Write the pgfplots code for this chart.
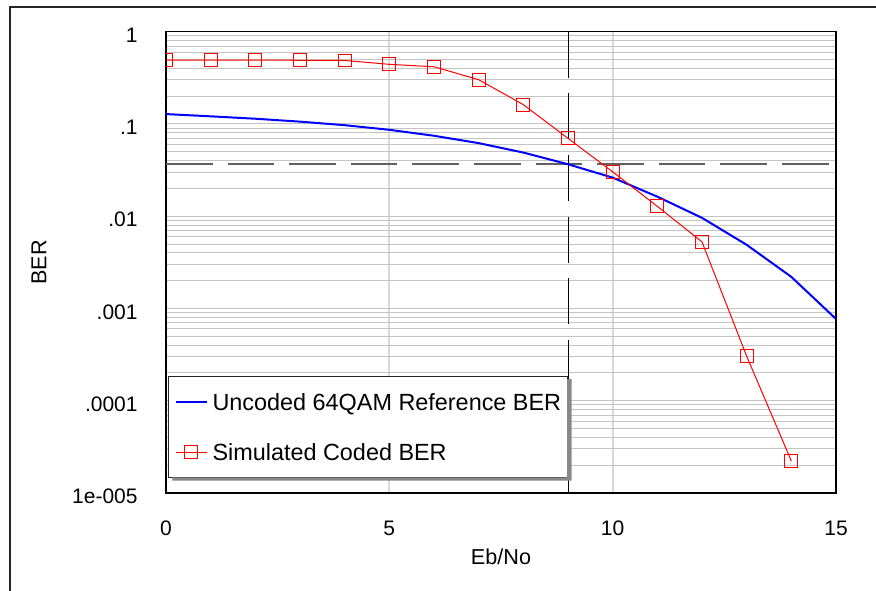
\documentclass[border=0pt]{standalone}
\usepackage{pgfplots}
\pgfplotsset{compat=1.18}
\usepackage{fontspec}
\setmainfont{Liberation Sans}
\definecolor{gridgray}{HTML}{C4C4C4}
\definecolor{gridlight}{HTML}{D8D8D8}
\definecolor{dashgray}{HTML}{606060}
\definecolor{shadowgray}{HTML}{888888}
\begin{document}
\begin{tikzpicture}
\useasboundingbox (0,0) rectangle (438pt,295pt);
\draw[line width=0.65pt, color=black!85] (5pt,-5pt) -- (5pt,291.5pt) -- (445pt,291.5pt);
\begin{axis}[
  at={(83pt,48.5pt)}, anchor=south west,
  scale only axis, width=335pt, height=230.65pt,
  ymode=log, log basis y=10,
  xmin=0, xmax=15, ymin=1e-5, ymax=1,
  xtick={0,5,10,15},
  ytick={1e-5,1e-4,1e-3,1e-2,1e-1,1},
  yticklabels={1e-005,.0001,.001,.01,.1,1},
  minor ytick={2e-5,3e-5,4e-5,5e-5,6e-5,7e-5,8e-5,9e-5,
               2e-4,3e-4,4e-4,5e-4,6e-4,7e-4,8e-4,9e-4,
               2e-3,3e-3,4e-3,5e-3,6e-3,7e-3,8e-3,9e-3,
               2e-2,3e-2,4e-2,5e-2,6e-2,7e-2,8e-2,9e-2,
               0.2,0.3,0.4,0.5,0.6,0.7,0.8,0.9},
  xmajorgrids, ymajorgrids, yminorgrids,
  x grid style={color=gridlight, line width=1pt},
  y grid style={color=gridgray, line width=0.5pt},
  major tick length=0pt, minor tick length=0pt,
  axis line style={line width=0.65pt},
  /pgf/number format/assume math mode=true,
  tick label style={font=\fontsize{10.5}{12}\selectfont},
  xticklabel style={anchor=base, inner sep=0pt, yshift=-21pt},
  yticklabel style={anchor=east, inner sep=0pt, xshift=-14pt, yshift=-1.75pt},
  xlabel={Eb/No}, ylabel={BER},
  label style={font=\fontsize{10.8}{12}\selectfont},
  xlabel style={at={(axis description cs:0.5,-0.1539)}, anchor=base, inner sep=0pt},
  ylabel style={at={(axis description cs:-0.1896,0.5)}, anchor=center, inner sep=0pt},
  clip marker paths=true,
  legend cell align=left,
  legend image code/.code={\draw[mark repeat=2,mark phase=2,#1] plot coordinates {(0pt,0pt) (7.75pt,0pt) (15.5pt,0pt)};},
  legend style={at={(0.003,0.2536)}, anchor=north west, draw=black!85, line width=0.55pt,
    fill=white, inner xsep=3pt, inner ysep=7pt, row sep=13.9pt, column sep=2.5pt,
    font=\fontsize{11.7}{13}\selectfont,
    nodes={inner sep=0pt, text height=9.8pt, text depth=1.5pt, anchor=west}},
]
% reference lines
\addplot[forget plot, color=dashgray, line width=1pt, dash pattern=on 23.3pt off 7.5pt]
  coordinates {(0,0.0368) (15,0.0368)};
\addplot[forget plot, color=black, line width=0.5pt, dash pattern=on 23pt off 7.8pt]
  coordinates {(9.0073,1) (9.0073,1e-5)};
% uncoded reference
\addplot[color=blue, line width=1pt, no markers] coordinates {
  (0,0.128) (1,0.121) (2,0.114) (3,0.106) (4,0.097) (5,0.0865)
  (6,0.0745) (7,0.062) (8,0.049) (9,0.0366) (10,0.0262) (11,0.0163)
  (12,0.0096) (13,0.0049) (14,0.0022) (15,0.00077)
};
\addlegendentry{Uncoded 64QAM Reference BER}
% simulated coded
\addplot[color=red, line width=0.5pt, mark=square, mark size=3.2pt, mark options={solid, line width=0.5pt}] coordinates {
  (0,0.493) (1,0.493) (2,0.493) (3,0.49) (4,0.488) (5,0.443)
  (6,0.417) (7,0.302) (8,0.162) (9,0.0698) (10,0.0303) (11,0.0128)
  (12,0.00527) (13,0.000304) (14,0.0000222)
};
\addlegendentry{Simulated Coded BER}
\node[anchor=base, inner sep=0pt, font=\fontsize{6.7}{8}\selectfont, yshift=-8.5pt] at (axis cs:9.0073,1e-5) {9.0073};
\end{axis}
% legend drop shadow (opaque strip right of and below the legend box)
\fill[shadowgray] (283.6pt,105.5pt) -- (285.85pt,105.5pt) -- (285.85pt,54.65pt)
  -- (86.15pt,54.65pt) -- (86.15pt,56.3pt) -- (283.6pt,56.3pt) -- cycle;
\end{tikzpicture}
\end{document}
